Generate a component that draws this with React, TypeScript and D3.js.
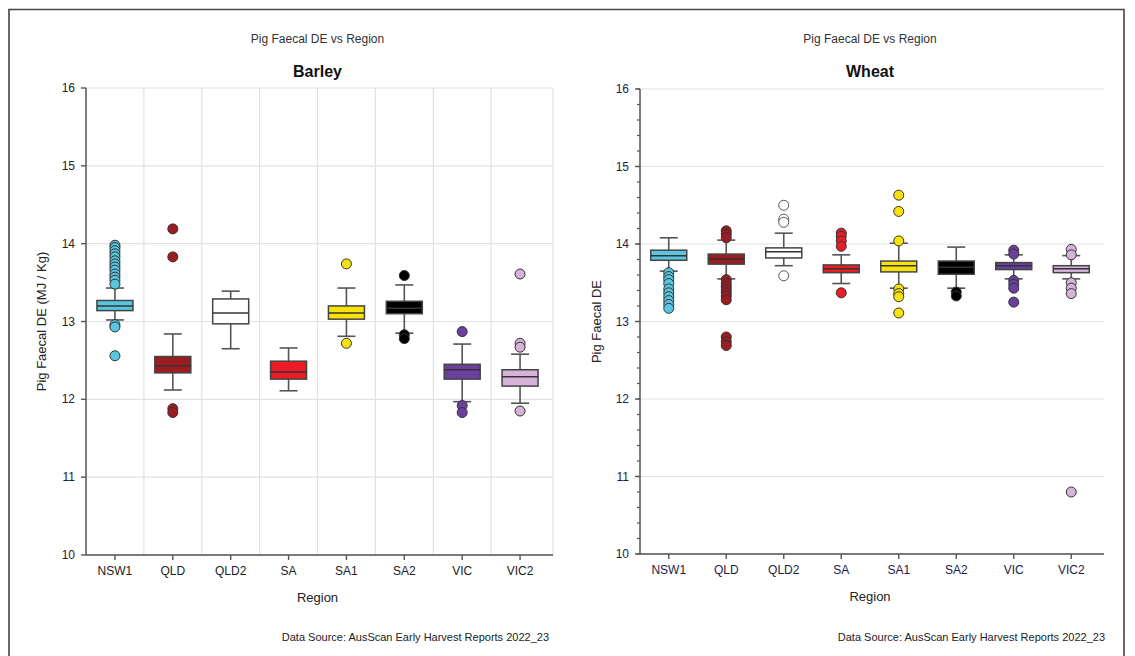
import * as d3 from 'd3';

const regions = ['NSW1', 'QLD', 'QLD2', 'SA', 'SA1', 'SA2', 'VIC', 'VIC2'];
const regionColors = ['#58c6df', '#9c1c22', '#ffffff', '#ec1c24', '#f6e30c', '#000000', '#6a3f9e', '#d8b3d9'];
const yTicks = [10, 11, 12, 13, 14, 15, 16];

// Barley
const barleyLow = [13.02, 12.12, 12.65, 12.11, 12.81, 12.85, 11.97, 11.95];
const barleyQ1 = [13.14, 12.34, 12.97, 12.26, 13.03, 13.1, 12.26, 12.17];
const barleyMedian = [13.2, 12.43, 13.11, 12.35, 13.11, 13.17, 12.38, 12.29];
const barleyQ3 = [13.27, 12.55, 13.29, 12.49, 13.2, 13.26, 12.45, 12.38];
const barleyHigh = [13.43, 12.84, 13.39, 12.66, 13.43, 13.47, 12.71, 12.58];
const barleyOutliers = [
  [13.98, 13.95, 13.91, 13.87, 13.83, 13.78, 13.74, 13.7, 13.66, 13.61, 13.57, 13.53, 13.48, 12.96, 12.93, 12.56],
  [14.19, 13.83, 11.88, 11.83],
  [],
  [],
  [13.74, 12.72],
  [13.59, 12.83, 12.78],
  [12.87, 11.92, 11.83],
  [13.61, 12.72, 12.67, 11.85],
];

// Wheat
const wheatLow = [13.65, 13.55, 13.72, 13.49, 13.43, 13.43, 13.55, 13.55];
const wheatQ1 = [13.79, 13.74, 13.82, 13.63, 13.64, 13.61, 13.67, 13.63];
const wheatMedian = [13.85, 13.81, 13.9, 13.68, 13.72, 13.7, 13.72, 13.68];
const wheatQ3 = [13.92, 13.87, 13.95, 13.73, 13.78, 13.78, 13.76, 13.72];
const wheatHigh = [14.08, 14.05, 14.14, 13.86, 14.01, 13.96, 13.86, 13.85];
const wheatOutliers = [
  [13.63, 13.58, 13.54, 13.49, 13.42, 13.37, 13.32, 13.27, 13.22, 13.17],
  [14.17, 14.13, 14.08, 13.54, 13.49, 13.45, 13.41, 13.37, 13.33, 13.28, 12.8, 12.74, 12.69],
  [14.5, 14.32, 14.28, 13.59],
  [14.14, 14.1, 14.04, 13.97, 13.37],
  [14.63, 14.42, 14.04, 13.42, 13.36, 13.32, 13.11],
  [13.38, 13.33],
  [13.92, 13.87, 13.53, 13.48, 13.43, 13.25],
  [13.93, 13.86, 13.5, 13.43, 13.36, 10.8],
];

const font = '"Liberation Sans", Arial, sans-serif';

type PanelProps = {
  x0: number; x1: number; yTop: number; yBottom: number;
  grain: string; yLabel: string; yLabelX: number; sourceX: number;
  low: number[]; q1: number[]; median: number[]; q3: number[]; high: number[]; outliers: number[][];
  vGrid: boolean; minorTicks: boolean; tickColor: string;
};

function BoxPanel(p: PanelProps) {
  const x = d3.scaleBand().domain(regions).range([p.x0, p.x1]);
  const y = d3.scaleLinear().domain([10, 16]).range([p.yBottom, p.yTop]);
  const bw = 36;
  const cap = 18;
  const mid = (p.x0 + p.x1) / 2;
  const minor = d3.range(10, 16.001, 0.2);

  return (
    <g fontFamily={font}>
      <text x={mid} y={43} textAnchor="middle" fontSize={12} fill="#333">Pig Faecal DE vs Region</text>
      <text x={mid} y={77} textAnchor="middle" fontSize={16} fontWeight="bold" fill="#111">{p.grain}</text>

      {/* grid */}
      {yTicks.map(t => (
        <line key={t} x1={p.x0} x2={p.x1 + 4} y1={y(t)} y2={y(t)} stroke="#e2e2e2" strokeWidth={1.2} />
      ))}
      {p.vGrid && regions.slice(1).map(r => (
        <line key={r} x1={x(r)!} x2={x(r)!} y1={p.yTop} y2={p.yBottom} stroke="#e2e2e2" strokeWidth={1.2} />
      ))}
      {p.vGrid && (
        <line x1={p.x1 + 4} x2={p.x1 + 4} y1={p.yTop} y2={p.yBottom} stroke="#e2e2e2" strokeWidth={1.2} />
      )}

      {/* boxes */}
      {regions.map((r, i) => {
        const cx = x(r)! + x.bandwidth() / 2;
        const fill = regionColors[i];
        const hollow = fill === '#ffffff';
        return (
          <g key={r}>
            <line x1={cx} x2={cx} y1={y(p.high[i])} y2={y(p.q3[i])} stroke="#555" strokeWidth={1.6} />
            <line x1={cx} x2={cx} y1={y(p.q1[i])} y2={y(p.low[i])} stroke="#555" strokeWidth={1.6} />
            <line x1={cx - cap / 2} x2={cx + cap / 2} y1={y(p.high[i])} y2={y(p.high[i])} stroke="#555" strokeWidth={1.6} />
            <line x1={cx - cap / 2} x2={cx + cap / 2} y1={y(p.low[i])} y2={y(p.low[i])} stroke="#555" strokeWidth={1.6} />
            <rect x={cx - bw / 2} width={bw} y={y(p.q3[i])} height={y(p.q1[i]) - y(p.q3[i])}
              fill={fill} stroke="#444" strokeWidth={1.5} />
            <line x1={cx - bw / 2} x2={cx + bw / 2} y1={y(p.median[i])} y2={y(p.median[i])}
              stroke="#333" strokeWidth={1.5} />
            {p.outliers[i].map((v, j) => (
              <circle key={j} cx={cx} cy={y(v)} r={5} fill={fill} stroke={hollow ? '#555' : '#333'} strokeWidth={1} />
            ))}
          </g>
        );
      })}

      {/* y axis */}
      <line x1={p.x0} x2={p.x0} y1={p.yTop} y2={p.yBottom} stroke="#555" strokeWidth={1.5} />
      {p.minorTicks && minor.map(t => (
        <line key={t.toFixed(1)} x1={p.x0 - 3} x2={p.x0} y1={y(t)} y2={y(t)} stroke="#555" strokeWidth={1.2} />
      ))}
      {yTicks.map(t => (
        <g key={t}>
          <line x1={p.x0 - 5} x2={p.x0} y1={y(t)} y2={y(t)} stroke="#555" strokeWidth={1.4} />
          <text x={p.x0 - 11} y={y(t) + 4} textAnchor="end" fontSize={12} fill={p.tickColor}>{t}</text>
        </g>
      ))}
      <text transform={`translate(${p.yLabelX},${(p.yTop + p.yBottom) / 2}) rotate(-90)`} textAnchor="middle"
        fontSize={13} fill="#222">{p.yLabel}</text>

      {/* x axis */}
      <line x1={p.x0} x2={p.x1 + 4} y1={p.yBottom} y2={p.yBottom} stroke="#555" strokeWidth={1.5} />
      {regions.map(r => {
        const cx = x(r)! + x.bandwidth() / 2;
        return (
          <g key={r}>
            <line x1={cx} x2={cx} y1={p.yBottom} y2={p.yBottom + 5} stroke="#555" strokeWidth={1.4} />
            <text x={cx} y={p.yBottom + 20} textAnchor="middle" fontSize={12} fill={p.tickColor}>{r}</text>
          </g>
        );
      })}
      <text x={mid} y={p.yBottom + 47} textAnchor="middle" fontSize={13} fill="#222">Region</text>
      <text x={p.sourceX} y={641} textAnchor="end" fontSize={11} fill="#222">Data Source: AusScan Early Harvest Reports 2022_23</text>
    </g>
  );
}

export default function App() {
  return (
    <svg width={1135} height={656} style={{ position: 'absolute', left: 0, top: 0, background: '#fff' }}>
      <rect width={1135} height={656} fill="#fff" />
      <path d="M9,660 V9.5 H1124 V660" fill="none" stroke="#444" strokeWidth={1.6} />
      <BoxPanel x0={86} x1={549} yTop={88} yBottom={555} grain="Barley" yLabel="Pig Faecal DE (MJ / Kg)" yLabelX={46}
        sourceX={549}
        low={barleyLow} q1={barleyQ1} median={barleyMedian} q3={barleyQ3} high={barleyHigh} outliers={barleyOutliers}
        vGrid={true} minorTicks={false} tickColor="#222" />
      <BoxPanel x0={640} x1={1100} yTop={89} yBottom={554} grain="Wheat" yLabel="Pig Faecal DE" yLabelX={601}
        sourceX={1105}
        low={wheatLow} q1={wheatQ1} median={wheatMedian} q3={wheatQ3} high={wheatHigh} outliers={wheatOutliers}
        vGrid={false} minorTicks={true} tickColor="#1c2148" />
    </svg>
  );
}
